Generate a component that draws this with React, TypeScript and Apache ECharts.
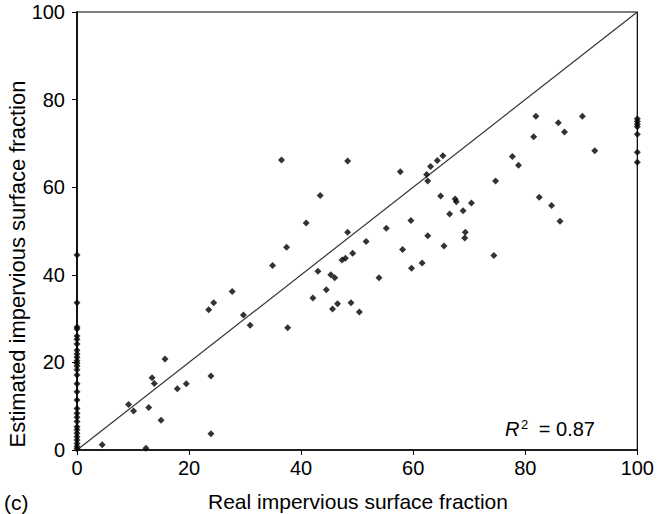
import React, { useEffect, useRef } from "react";
import * as echarts from "echarts";

// Points lying on the x = 0 axis (estimated values only)
const zeroRealEstimated = [
  44.5, 33.6, 28.1, 27.6, 26.0, 25.3, 24.2, 22.8, 21.9, 21.2, 20.4, 19.8, 19.2,
  18.3, 17.1, 15.1, 13.3, 11.4, 9.5, 8.4, 7.5, 6.5, 5.3, 4.6, 3.8, 3.0, 2.3,
  1.5, 0.8, 0.3,
];
// Points lying on the x = 100 edge
const fullRealEstimated = [75.6, 75.0, 74.4, 73.8, 72.1, 68.0, 65.7];

// Remaining points: real fraction vs estimated fraction
const realFraction = [
  4.5, 12.3, 9.2, 10.1, 12.8, 15.0, 13.4, 13.8, 15.7, 17.9, 19.5, 23.9, 23.9,
  23.5, 24.4, 27.7, 29.7, 30.9, 34.9, 37.4, 37.6, 42.1, 43.0, 44.5, 45.3, 46.0,
  45.6, 46.5, 47.3, 47.9, 49.2, 48.9, 50.4, 51.6, 53.9, 58.1, 59.7, 61.6, 65.5,
  74.4, 48.3, 57.7, 62.4, 62.6, 63.1, 64.3, 65.3, 48.3, 55.2, 59.6, 62.6, 64.9,
  67.5, 67.7, 66.5, 68.9, 70.4, 69.3, 69.2, 74.7, 77.7, 78.8, 81.9, 81.5, 85.9,
  87.0, 90.2, 92.4, 82.5, 84.7, 86.2, 36.5, 43.4, 40.9,
];
const estimatedFraction = [
  1.2, 0.4, 10.4, 8.9, 9.7, 6.8, 16.5, 15.2, 20.8, 14.0, 15.1, 16.9, 3.7, 32.0,
  33.6, 36.2, 30.8, 28.5, 42.1, 46.3, 27.9, 34.7, 40.8, 36.6, 40.0, 39.3, 32.2,
  33.4, 43.4, 43.8, 44.9, 33.6, 31.5, 47.6, 39.3, 45.8, 41.5, 42.7, 46.6, 44.4,
  66.0, 63.5, 62.9, 61.4, 64.7, 66.1, 67.2, 49.7, 50.6, 52.4, 48.9, 58.0, 57.3,
  56.7, 53.9, 54.6, 56.4, 49.7, 48.4, 61.4, 67.0, 65.0, 76.2, 71.5, 74.7, 72.6,
  76.2, 68.3, 57.7, 55.8, 52.2, 66.2, 58.1, 51.8,
];

const axisMin = 0;
const axisMax = 100;
const tickStep = 20;
const identityLine = [
  [0, 0],
  [100, 100],
];
const xTitle = "Real impervious surface fraction";
const yTitle = "Estimated impervious surface fraction";
const panelLabel = "(c)";
const rSquaredValue = "0.87";

const FONT = "'Liberation Sans', Arial, Helvetica, sans-serif";

export default function App() {
  const ref = useRef<HTMLDivElement>(null);

  useEffect(() => {
    if (!ref.current) return;
    const chart = echarts.init(ref.current, undefined, { renderer: "svg" });

    const points: number[][] = [];
    zeroRealEstimated.forEach((y) => points.push([0, y]));
    fullRealEstimated.forEach((y) => points.push([100, y]));
    realFraction.forEach((x, i) => points.push([x, estimatedFraction[i]]));

    const axisCommon = {
      type: "value" as const,
      min: axisMin,
      max: axisMax,
      interval: tickStep,
      splitLine: { show: false },
      axisLine: { show: true, onZero: false, lineStyle: { color: "#000", width: 1.6 } },
      axisTick: { show: true, inside: false, length: 5, lineStyle: { color: "#000", width: 1 } },
    };

    chart.setOption({
      animation: false,
      backgroundColor: "#fff",
      grid: {
        left: 77,
        right: 13,
        top: 12,
        bottom: 64,
        show: true,
        borderColor: "#000",
        borderWidth: 1.2,
        backgroundColor: "transparent",
      },
      xAxis: {
        ...axisCommon,
        axisLabel: { color: "#000", fontSize: 20, fontFamily: FONT, margin: 8 },
      },
      yAxis: {
        ...axisCommon,
        axisLabel: { color: "#000", fontSize: 20, fontFamily: FONT, margin: 12 },
      },
      series: [
        {
          type: "line",
          data: identityLine,
          symbol: "none",
          lineStyle: { color: "#333", width: 1.2 },
          silent: true,
          z: 1,
        },
        {
          type: "scatter",
          data: points,
          symbol: "diamond",
          symbolSize: 7,
          itemStyle: { color: "#000" },
          clip: false,
          z: 3,
        },
      ],
      graphic: [
        {
          type: "text",
          x: 17,
          y: 264,
          rotation: Math.PI / 2,
          style: {
            text: yTitle,
            font: `22px ${FONT}`,
            fill: "#000",
            align: "center",
            verticalAlign: "middle",
          },
        },
        {
          type: "text",
          x: 358,
          y: 501,
          style: {
            text: xTitle,
            font: `21px ${FONT}`,
            fill: "#000",
            align: "center",
            verticalAlign: "middle",
          },
        },
        {
          type: "text",
          x: 4,
          y: 502,
          style: {
            text: panelLabel,
            font: `21px ${FONT}`,
            fill: "#000",
            align: "left",
            verticalAlign: "middle",
          },
        },
        {
          type: "text",
          x: 505,
          y: 429,
          style: {
            text: "R",
            font: `italic 20px ${FONT}`,
            fill: "#000",
            align: "left",
            verticalAlign: "middle",
          },
        },
        {
          type: "text",
          x: 521,
          y: 418,
          style: {
            text: "2",
            font: `13px ${FONT}`,
            fill: "#000",
            align: "left",
            verticalAlign: "top",
          },
        },
        {
          type: "text",
          x: 595,
          y: 429,
          style: {
            text: "= " + rSquaredValue,
            font: `20px ${FONT}`,
            fill: "#000",
            align: "right",
            verticalAlign: "middle",
          },
        },
      ],
    });

    return () => chart.dispose();
  }, []);

  return (
    <div
      ref={ref}
      style={{ position: "fixed", left: 0, top: 0, width: 657, height: 514, background: "#fff" }}
    />
  );
}
